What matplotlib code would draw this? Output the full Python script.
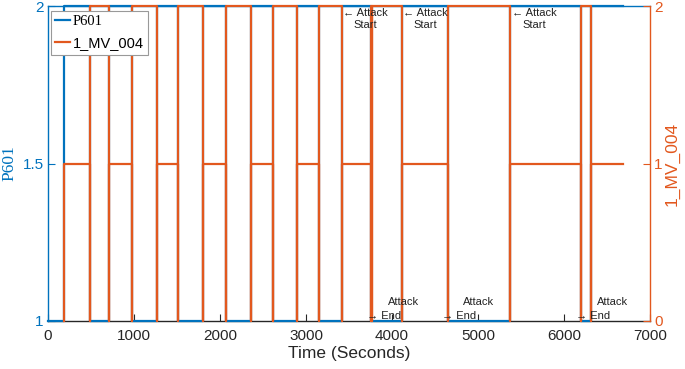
import matplotlib
matplotlib.use("Agg")
import matplotlib.pyplot as plt
from matplotlib.lines import Line2D

plt.rcParams['font.family'] = ['Liberation Sans', 'DejaVu Sans']

# ---- data ----
# 1_MV_004: times (s) at which the valve changes state, and the new state
mv_change_t = [186, 488, 713, 973, 1264, 1515, 1806, 2070, 2357, 2620,
               2892, 3151, 3415, 3756, 3771, 4120, 4651, 5372, 6194, 6310]
mv_new_level = [1, 2, 1, 2, 1, 2, 1, 2, 1, 2,
                1, 2, 1, 2, 2, 1, 2, 1, 2, 1]
mv_end_t = 6686

# P601: times at which the pump changes state, and the new state
p601_start_level = 1
p601_change_t = [186, 488, 713, 973, 1264, 1515, 1806, 2070, 2357, 2620,
                 2892, 3151, 3415, 3756, 4120, 4651, 5372, 6194, 6310]
p601_new_level = [2, 1, 2, 1, 2, 1, 2, 1, 2, 1,
                  2, 1, 2, 1, 2, 1, 2, 1, 2]
p601_end_t = 6686

attack_start = [3430, 4128, 5395]
attack_end = [3779, 4651, 6209]

x_ticks = [0, 1000, 2000, 3000, 4000, 5000, 6000, 7000]
left_ticks = [1, 1.5, 2]
right_ticks = [0, 1, 2]

BLUE = '#0072BD'
ORANGE = '#E2581E'

# ---- build sampled series (valve passes through state 0 when switching) ----
mv_t, mv_v = [], []
for t, lvl in zip(mv_change_t, mv_new_level):
    mv_t += [t, t]
    mv_v += [0, lvl]
mv_t.append(mv_end_t)
mv_v.append(mv_v[-1])

p_t = [0] + p601_change_t + [p601_end_t]
p_v = [p601_start_level] + p601_new_level + [p601_new_level[-1]]

fig = plt.figure(figsize=(6.85, 3.69), dpi=100)
ax = fig.add_axes([48/685, 1-321/369, (650-48)/685, (321-6)/369])
ax2 = ax.twinx()

ax.plot(p_t, p_v, drawstyle='steps-post', color=BLUE, lw=1.6,
        clip_on=False, zorder=3)
ax2.plot(mv_t, mv_v, drawstyle='steps-post', color=ORANGE, lw=1.6,
         clip_on=False, zorder=3)

ax.set_xlim(0, 7000)
ax.set_ylim(1, 2)
ax2.set_ylim(0, 2)
ax.set_xticks(x_ticks)
ax.set_yticks(left_ticks)
ax.set_yticklabels(['1', '1.5', '2'])
ax2.set_yticks(right_ticks)

# spines
for s in ['top', 'bottom', 'left', 'right']:
    ax2.spines[s].set_visible(False)
ax2.spines['right'].set_visible(True)
ax2.spines['right'].set_color(ORANGE)
ax.spines['right'].set_visible(False)
ax.spines['left'].set_color(BLUE)
ax.spines['top'].set_color(BLUE)
ax.spines['bottom'].set_color('#262626')
for s in ax.spines.values():
    s.set_linewidth(1.0)
ax2.spines['right'].set_linewidth(1.0)

ax.tick_params(axis='x', direction='in', length=5, colors='#262626',
               labelsize=11, pad=6, top=False)
ax.tick_params(axis='y', direction='in', length=5, colors=BLUE,
               labelsize=11, pad=3)
ax2.tick_params(axis='y', direction='in', length=5, colors=ORANGE,
                labelsize=11, pad=3)

ax.set_xlabel('Time (Seconds)', fontsize=12.5, color='#262626', labelpad=2)
ax.set_ylabel('P601', fontsize=12.5, color=BLUE,
              family=['Liberation Serif', 'DejaVu Serif'], labelpad=4)
ax2.set_ylabel('1_MV_004', fontsize=12.5, color=ORANGE, labelpad=1.5)

# annotations
for xs in attack_start:
    ax2.text(xs, 1.985, '\u2190 Attack\nStart', fontsize=8, color='#222222',
             ha='left', va='top', multialignment='center', linespacing=1.25,
             zorder=5)
for xe in attack_end:
    ax2.annotate('Attack', xy=(xe, 0), xytext=(11, 10), textcoords='offset points',
                 fontsize=8, color='#222222', ha='left', va='bottom', zorder=5)
    ax2.annotate('\u2192 End', xy=(xe, 0), xytext=(-4, 0), textcoords='offset points',
                 fontsize=8, color='#222222', ha='left', va='bottom', zorder=5)

handles = [Line2D([], [], color=BLUE, lw=1.6), Line2D([], [], color=ORANGE, lw=1.6)]
leg = ax2.legend(handles, ['P601', '1_MV_004'], loc='upper left',
                 bbox_to_anchor=(0.002, 0.99), fontsize=10.5, handlelength=1.0,
                 handletextpad=0.2, borderpad=0.3, labelspacing=0.55,
                 fancybox=False, framealpha=1, edgecolor='#999999',
                 borderaxespad=0.1)
leg.get_frame().set_linewidth(0.8)
leg.get_texts()[0].set_family(['Liberation Serif', 'DejaVu Serif'])

fig.savefig('out.png', dpi=100)
